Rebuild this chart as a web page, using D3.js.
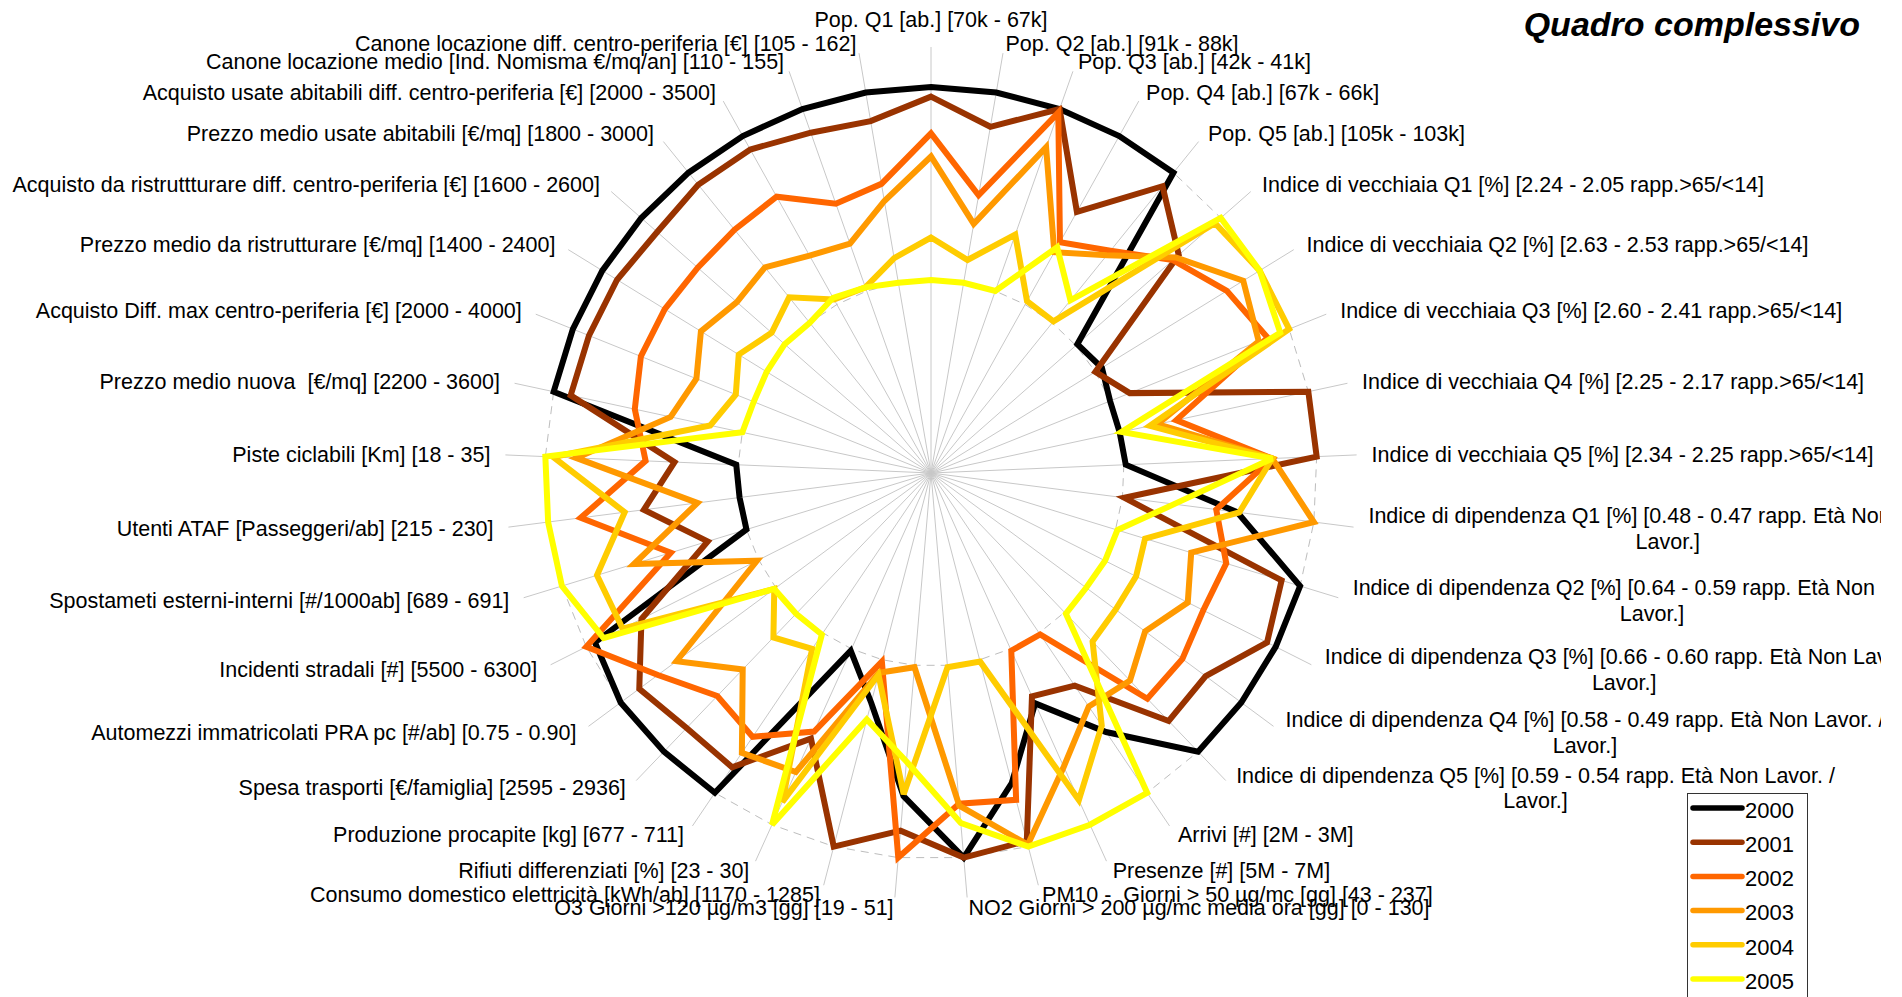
<!DOCTYPE html>
<html><head><meta charset="utf-8">
<script src="https://cdn.jsdelivr.net/npm/d3@7"></script>
<style>
body{margin:0;background:#fff;}
svg{display:block;}
text{font-family:"Liberation Sans",Arial,sans-serif;fill:#000;white-space:pre;}
</style>
</head><body>
<svg id="chart" width="1902" height="997"></svg>
<script>
const categories = [
"Pop. Q1 [ab.] [70k - 67k]",
"Pop. Q2 [ab.] [91k - 88k]",
"Pop. Q3 [ab.] [42k - 41k]",
"Pop. Q4 [ab.] [67k - 66k]",
"Pop. Q5 [ab.] [105k - 103k]",
"Indice di vecchiaia Q1 [%] [2.24 - 2.05 rapp.>65/<14]",
"Indice di vecchiaia Q2 [%] [2.63 - 2.53 rapp.>65/<14]",
"Indice di vecchiaia Q3 [%] [2.60 - 2.41 rapp.>65/<14]",
"Indice di vecchiaia Q4 [%] [2.25 - 2.17 rapp.>65/<14]",
"Indice di vecchiaia Q5 [%] [2.34 - 2.25 rapp.>65/<14]",
"Indice di dipendenza Q1 [%] [0.48 - 0.47 rapp. Età Non Lavor. /\nLavor.]",
"Indice di dipendenza Q2 [%] [0.64 - 0.59 rapp. Età Non Lavor. /\nLavor.]",
"Indice di dipendenza Q3 [%] [0.66 - 0.60 rapp. Età Non Lavor. /\nLavor.]",
"Indice di dipendenza Q4 [%] [0.58 - 0.49 rapp. Età Non Lavor. /\nLavor.]",
"Indice di dipendenza Q5 [%] [0.59 - 0.54 rapp. Età Non Lavor. /\nLavor.]",
"Arrivi [#] [2M - 3M]",
"Presenze [#] [5M - 7M]",
"PM10 -  Giorni > 50 µg/mc [gg] [43 - 237]",
"NO2 Giorni > 200 µg/mc media ora [gg] [0 - 130]",
"O3 Giorni >120 µg/m3 [gg] [19 - 51]",
"Consumo domestico elettricità [kWh/ab] [1170 - 1285]",
"Rifiuti differenziati [%] [23 - 30]",
"Produzione procapite [kg] [677 - 711]",
"Spesa trasporti [€/famiglia] [2595 - 2936]",
"Automezzi immatricolati PRA pc [#/ab] [0.75 - 0.90]",
"Incidenti stradali [#] [5500 - 6300]",
"Spostameti esterni-interni [#/1000ab] [689 - 691]",
"Utenti ATAF [Passeggeri/ab] [215 - 230]",
"Piste ciclabili [Km] [18 - 35]",
"Prezzo medio nuova  [€/mq] [2200 - 3600]",
"Acquisto Diff. max centro-periferia [€] [2000 - 4000]",
"Prezzo medio da ristrutturare [€/mq] [1400 - 2400]",
"Acquisto da ristruttturare diff. centro-periferia [€] [1600 - 2600]",
"Prezzo medio usate abitabili [€/mq] [1800 - 3000]",
"Acquisto usate abitabili diff. centro-periferia [€] [2000 - 3500]",
"Canone locazione medio [Ind. Nomisma €/mq/an] [110 - 155]",
"Canone locazione diff. centro-periferia [€] [105 - 162]"
];

const years = ["2000","2001","2002","2003","2004","2005"];
const colors = ["#000000","#993300","#FF6600","#FF9900","#FFCC00","#FFFF00"];

const s2000 = [1.00,1.00,1.00,1.00,1.00,0.01,0.04,0.00,0.00,0.01,0.60,1.00,1.00,1.00,1.00,0.62,0.31,0.66,1.00,0.68,0.23,0.01,1.00,1.00,1.00,0.95,0.00,0.00,0.01,1.00,1.00,1.00,1.00,1.00,1.00,1.00,1.00];
const s2001 = [0.95,0.82,1.00,0.55,0.91,0.71,0.00,0.11,1.00,1.00,0.01,0.90,0.95,0.77,0.78,0.33,0.27,0.97,1.00,0.86,1.00,0.51,0.84,0.83,0.88,0.68,0.21,0.50,0.33,0.91,0.91,0.91,0.89,0.92,0.92,0.87,0.85];
const s2002 = [0.76,0.46,0.98,0.37,0.48,0.67,0.80,0.88,0.30,0.77,0.49,0.60,0.58,0.62,0.62,0.01,0.01,0.75,0.72,1.00,0.01,0.47,0.65,0.60,0.76,1.00,0.41,0.83,0.48,0.57,0.62,0.62,0.61,0.62,0.64,0.48,0.52];
const s2003 = [0.64,0.31,0.79,0.31,0.45,0.69,0.90,0.83,0.20,0.77,1.00,0.41,0.49,0.38,0.49,0.46,0.67,0.99,0.73,0.01,0.07,0.70,0.75,0.41,0.64,0.01,0.61,0.22,0.84,0.38,0.31,0.40,0.34,0.37,0.29,0.26,0.43];
const s2004 = [0.22,0.12,0.31,0.02,0.01,0.96,1.00,1.00,0.16,0.77,0.61,0.16,0.19,0.19,0.21,0.58,0.86,0.01,0.01,0.67,0.08,0.87,0.10,0.18,0.01,0.79,0.81,0.60,0.96,0.17,0.09,0.17,0.10,0.17,0.03,0.02,0.13];
const s2005 = [0.00,0.00,0.00,0.34,0.15,1.00,1.00,0.95,0.01,0.77,0.27,0.01,0.01,0.00,0.01,1.00,1.00,1.00,0.82,0.50,0.32,1.00,0.01,0.01,0.01,0.90,1.00,1.00,1.00,0.00,-0.01,0.00,0.01,0.00,0.04,0.02,0.00];
const seriesValues = [s2000,s2001,s2002,s2003,s2004,s2005];

const radialDomain = [-1, 1];
const gridValues = [0, 1];
const title = "Quadro complessivo";

// ---------- drawing ----------
const W = 1902, H = 997;
const cx = 931, cy = 473, R = 386;
const svg = d3.select("#chart");
const n = categories.length;
const angle = d3.scaleLinear().domain([0, n]).range([0, 2*Math.PI]);
const r = d3.scaleLinear().domain(radialDomain).range([0, R]);

svg.append("defs").append("clipPath").attr("id","clip")
  .append("rect").attr("x",0).attr("y",0).attr("width",1881).attr("height",H);

const root = svg.append("g").attr("clip-path","url(#clip)");
const g = root.append("g").attr("transform",`translate(${cx},${cy})`);

// spokes
g.append("g").selectAll("line").data(categories).join("line")
  .attr("x1",0).attr("y1",0)
  .attr("x2",(d,i)=>Math.sin(angle(i))*(R+40))
  .attr("y2",(d,i)=>-Math.cos(angle(i))*(R+40))
  .attr("stroke","#c8c8c8").attr("stroke-width",1);

// dashed grid polygons
const gridLine = d3.lineRadial().angle((d,i)=>angle(i)).radius(d=>r(d)).curve(d3.curveLinearClosed);
g.append("g").selectAll("path").data(gridValues).join("path")
  .attr("d", v => gridLine(categories.map(()=>v)))
  .attr("fill","none").attr("stroke","#bdbdbd").attr("stroke-width",1)
  .attr("stroke-dasharray","8,6");

// series
const line = d3.lineRadial().angle((d,i)=>angle(i)).radius(d=>r(d)).curve(d3.curveLinearClosed);
g.append("g").selectAll("path").data(seriesValues).join("path")
  .attr("d", d => line(d))
  .attr("fill","none")
  .attr("stroke",(d,i)=>colors[i])
  .attr("stroke-width",6)
  .attr("stroke-linejoin","miter")
  .attr("stroke-miterlimit",3);

// category labels
const fs = 21.5, lh = 25.5, labRx = R + 55, labRy = R + 50;
const labG = root.append("g").style("font-size", fs+"px");
categories.forEach((c,i)=>{
  const a = angle(i);
  const sx = Math.sin(a), cy0 = Math.cos(a);
  const ax = cx + sx*labRx;
  const lines = c.split("\n");
  if (lines.length === 1) {
    let anchor = "middle", y = cy - cy0*labRy;
    if (sx > 0.05) anchor = "start";
    else if (sx < -0.05) anchor = "end";
    else y = cy - cy0*labRx - 0.6*fs*cy0;
    labG.append("text").attr("x",ax).attr("y",y).attr("dy","0.35em")
      .attr("text-anchor",anchor).text(c);
  } else {
    const ay = cy - cy0*labRy;
    const t1 = labG.append("text").attr("x",ax).attr("y",ay - lh/2).attr("dy","0.35em")
      .attr("text-anchor","start").text(lines[0]);
    const w1 = t1.node().getComputedTextLength();
    labG.append("text").attr("x",ax + w1/2).attr("y",ay + lh/2).attr("dy","0.35em")
      .attr("text-anchor","middle").text(lines[1]);
  }
});

// title
svg.append("text").attr("x",1860).attr("y",36).attr("text-anchor","end")
  .style("font-size","34px").style("font-weight","bold").style("font-style","italic")
  .text(title);

// legend
const lg = svg.append("g");
lg.append("rect").attr("x",1687.5).attr("y",793.5).attr("width",120).attr("height",230)
  .attr("fill","#fff").attr("stroke","#333").attr("stroke-width",1);
const ly = d3.scalePoint().domain(years).range([808, 979]);
const items = lg.selectAll("g").data(years).join("g").attr("transform",d=>`translate(0,${ly(d)})`);
items.append("line").attr("x1",1693).attr("x2",1742).attr("y1",0).attr("y2",0)
  .attr("stroke",(d,i)=>colors[i]).attr("stroke-width",5.5).attr("stroke-linecap","round");
items.append("text").attr("x",1745).attr("y",2).attr("dy","0.35em")
  .style("font-size","22px").text(d=>d);
</script>
</body></html>
